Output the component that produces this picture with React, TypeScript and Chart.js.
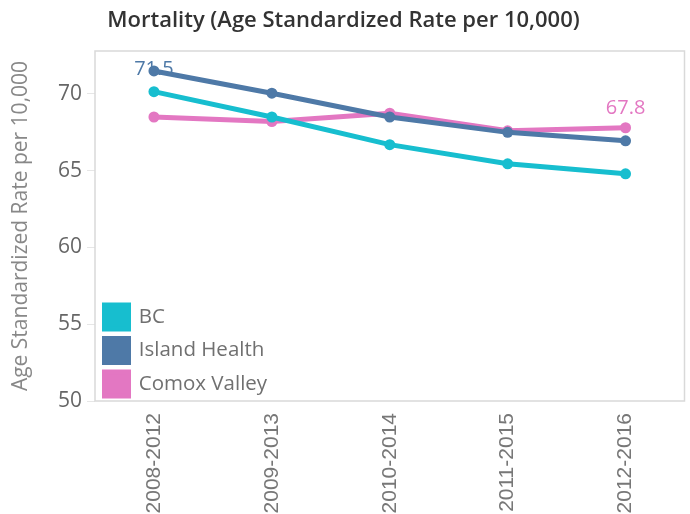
import React, { useEffect, useRef } from "react";
import { Chart, registerables } from "chart.js";

Chart.register(...registerables);

const chartTitle = "Mortality (Age Standardized Rate per 10,000)";
const yAxisTitle = "Age Standardized Rate per 10,000";
const categories = ["2008-2012", "2009-2013", "2010-2014", "2011-2015", "2012-2016"];
const seriesNames = ["BC", "Island Health", "Comox Valley"];
const bcValues = [70.15, 68.5, 66.7, 65.45, 64.8];
const islandHealthValues = [71.5, 70.05, 68.5, 67.5, 66.95];
const comoxValleyValues = [68.5, 68.2, 68.75, 67.6, 67.8];
const seriesColors = ["#17becf", "#4e79a7", "#e377c2"];
const yMin = 50;
const yMax = 72.8;
const yStep = 5;
// which points carry a value label: [series index, category index]
const labeledPoints: [number, number][] = [
  [1, 0],
  [2, 4],
];

const FONT = "'Open Sans', 'Noto Sans', sans-serif";
const LEGEND_BOTTOM_GAP = 5;

const frameAndLabels = {
  id: "frameAndLabels",
  afterLayout(chart: any) {
    // keep the in-plot legend anchored to the bottom of the plot area
    const lg = chart.legend;
    if (lg && chart.chartArea) {
      lg.top = chart.chartArea.top;
      lg.bottom = chart.chartArea.bottom + (9.5 - LEGEND_BOTTOM_GAP);
      lg.height = lg.bottom - lg.top;
      if (typeof lg.adjustHitBoxes === "function") lg.adjustHitBoxes();
    }
  },
  beforeDatasetsDraw(chart: any) {
    const { ctx, chartArea } = chart;
    ctx.save();
    ctx.font = `20px ${FONT}`;
    ctx.textAlign = "center";
    ctx.textBaseline = "middle";
    labeledPoints.forEach(([s, i]) => {
      const meta = chart.getDatasetMeta(s);
      const pt = meta.data[i];
      if (!pt) return;
      const ds = chart.data.datasets[s];
      const y = Math.max(pt.y - 19.5, chartArea.top + 18);
      ctx.fillStyle = ds.borderColor;
      ctx.fillText(ds.data[i].toFixed(1), pt.x, y);
    });
    ctx.restore();
  },
  afterDraw(chart: any) {
    const { ctx, chartArea } = chart;
    ctx.save();
    ctx.strokeStyle = "#d9d9d9";
    ctx.lineWidth = 1.5;
    ctx.strokeRect(chartArea.left, chartArea.top, chartArea.right - chartArea.left, chartArea.bottom - chartArea.top);
    ctx.restore();
  },
};

export default function App() {
  const ref = useRef<HTMLCanvasElement | null>(null);

  useEffect(() => {
    if (!ref.current) return;
    const values = [bcValues, islandHealthValues, comoxValleyValues];
    const chart = new Chart(ref.current, {
      type: "line",
      data: {
        labels: categories,
        datasets: seriesNames.map((name, k) => ({
          label: name,
          data: values[k],
          borderColor: seriesColors[k],
          backgroundColor: seriesColors[k],
          pointBackgroundColor: seriesColors[k],
          pointBorderColor: seriesColors[k],
          borderWidth: 5,
          pointRadius: 5.5,
          pointBorderWidth: 0,
          tension: 0,
          fill: false,
        })),
      },
      options: {
        responsive: false,
        animation: false,
        layout: { padding: { left: 0, right: 3, top: 0, bottom: 0 } },
        plugins: {
          title: {
            display: true,
            text: chartTitle,
            color: "#333333",
            font: { family: FONT, size: 22, weight: "600" },
            padding: { top: 8, bottom: 16.6 },
          },
          legend: {
            position: "chartArea",
            align: "end",
            labels: {
              boxWidth: 24,
              boxHeight: 24,
              padding: 9.5,
              color: "#707070",
              font: { family: FONT, size: 20.5 },
            },
          },
          tooltip: { enabled: false },
        },
        scales: {
          x: {
            offset: true,
            grid: { display: false, drawTicks: false },
            border: { display: false },
            ticks: {
              minRotation: 90,
              maxRotation: 90,
              padding: 12,
              color: "#777777",
              font: { family: "'Liberation Sans', Arial, sans-serif", size: 21 },
            },
            afterFit: (scale: any) => {
              scale.height = 113;
            },
          },
          y: {
            min: yMin,
            max: yMax,
            grid: { display: true, drawOnChartArea: false, drawTicks: true, tickLength: 8, color: "#e6e6e6" },
            border: { display: false },
            ticks: {
              stepSize: yStep,
              includeBounds: false,
              padding: 5,
              color: "#666666",
              font: { family: FONT, size: 21 },
            },
            title: {
              display: true,
              text: yAxisTitle,
              color: "#888888",
              font: { family: FONT, size: 21 },
              padding: { top: 8, bottom: 0 },
            },
            afterFit: (scale: any) => {
              scale.width = 95;
            },
          },
        },
      },
      plugins: [frameAndLabels],
    });
    return () => chart.destroy();
  }, []);

  return (
    <div style={{ position: "absolute", left: 0, top: 0, width: 690, height: 514, background: "#ffffff" }}>
      <canvas ref={ref} width={690} height={514} style={{ display: "block" }} />
    </div>
  );
}
